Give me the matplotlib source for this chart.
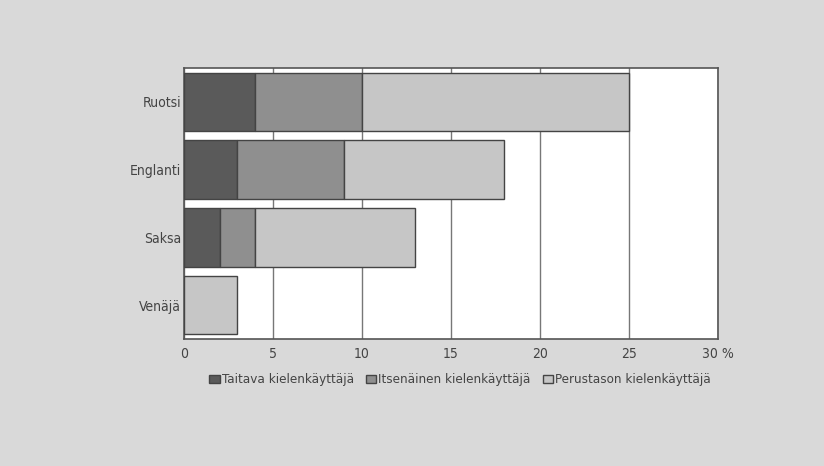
import matplotlib.pyplot as plt

plt.rcParams["font.family"] = ["DejaVu Sans"]
plt.rcParams["font.stretch"] = "condensed"

languages = ["Ruotsi", "Englanti", "Saksa", "Venäjä"]
taitava = [4, 3, 2, 0]
itsenainen = [6, 6, 2, 0]
perustaso = [15, 9, 9, 3]
series_names = ["Taitava kielenkäyttäjä", "Itsenäinen kielenkäyttäjä", "Perustason kielenkäyttäjä"]
xticks = [0, 5, 10, 15, 20, 25, 30]
xtick_labels = ["0", "5", "10", "15", "20", "25", "30 %"]

colors = ["#5a5a5a", "#8f8f8f", "#c6c6c6"]
bg = "#d9d9d9"

fig = plt.figure(figsize=(8.24, 4.66), dpi=100, facecolor=bg)
ax = fig.add_axes([184 / 824, 1 - 339 / 466, 534 / 824, 271 / 466])
ax.set_facecolor("white")

ypos = list(range(len(languages)))
left = [0] * len(languages)
for vals, name, c in zip([taitava, itsenainen, perustaso], series_names, colors):
    ax.barh(ypos, vals, left=left, height=0.86, color=c, edgecolor="#444444",
            linewidth=1.0, label=name, zorder=3)
    left = [l + v for l, v in zip(left, vals)]

ax.set_xlim(0, 30)
ax.set_ylim(3.5, -0.5)
ax.set_xticks(xticks)
ax.set_xticklabels(xtick_labels)
ax.set_yticks(ypos)
ax.set_yticklabels(languages)
ax.tick_params(length=0, labelsize=10, colors="#444444", pad=2)
ax.tick_params(axis="x", pad=6)
ax.grid(axis="x", color="#777777", linewidth=1.0, zorder=0)
for s in ax.spines.values():
    s.set_color("#555555")
    s.set_linewidth(1.2)

leg = fig.legend(loc="center", bbox_to_anchor=(460 / 824, 1 - 380 / 466), ncol=3,
                 frameon=False, fontsize=9.6, handlelength=0.8, handleheight=0.6,
                 handletextpad=0.15, columnspacing=0.9, labelcolor="#444444")

fig.savefig("out.png", dpi=100, facecolor=bg)
